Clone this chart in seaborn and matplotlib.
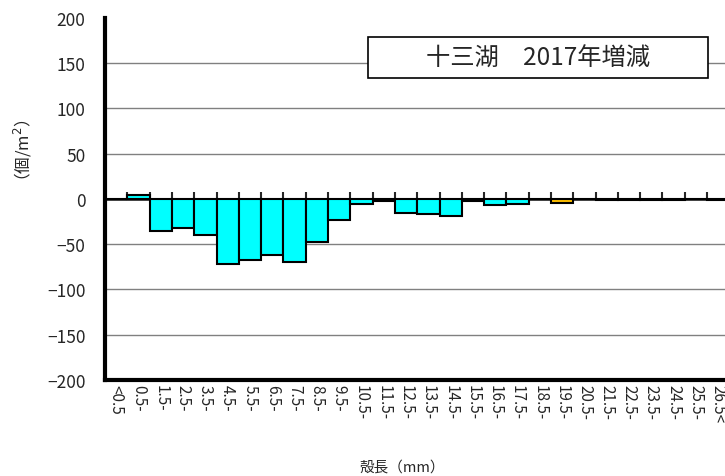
import matplotlib
matplotlib.use('Agg')
import matplotlib.pyplot as plt
import numpy as np
import pandas as pd
import seaborn as sns
from matplotlib.patches import Rectangle

# shell length classes and 2017 change in density (per m2)
size_classes = ['<0.5'] + [f'{v}.5-' for v in range(0, 26)] + ['26.5<']
change_2017 = [0, 4, -35, -32, -40, -72, -67, -62, -70, -47, -23, -6, -2,
               -16, -17, -19, -2, -7, -5, 0, -4, 0, -1, -1, -1, -1, 0, -1]
highlight_class = '19.5-'
y_ticks = [-200, -150, -100, -50, 0, 50, 100, 150, 200]
title_text = '十三湖　2017年増減'

df = pd.DataFrame({'size': size_classes, 'change': change_2017})
palette = {c: ('#FFC000' if c == highlight_class else '#00FFFF') for c in size_classes}

sns.set_style('white')
plt.rcParams['font.family'] = ['Noto Sans CJK JP', 'DejaVu Sans']

fig = plt.figure(figsize=(7.25, 4.77), dpi=100)
ax = fig.add_axes([0.145, 0.2013, 0.861, 0.7589])

sns.barplot(data=df, x='size', y='change', hue='size', palette=palette,
            width=1.0, edgecolor='black', linewidth=1.5, legend=False,
            saturation=1, ax=ax, zorder=3)

ax.set_xlim(-0.5, len(size_classes) - 0.5)
ax.set_ylim(y_ticks[0], y_ticks[-1])
ax.set_yticks(y_ticks)
ax.yaxis.grid(True, color='#808080', linewidth=1)
ax.set_axisbelow(True)
glines = ax.get_ygridlines()
glines[0].set_visible(False)
glines[-1].set_visible(False)

for s in ['top', 'right']:
    ax.spines[s].set_visible(False)
ax.spines['left'].set_linewidth(3)
ax.spines['bottom'].set_linewidth(3)
ax.spines['left'].set_color('black')
ax.spines['bottom'].set_color('black')

ax.tick_params(axis='y', direction='in', length=4, width=2, labelsize=12.5, pad=14)
ax.tick_params(axis='x', length=0, labelsize=11, pad=3)
for lab in ax.get_xticklabels():
    lab.set_rotation(-90)
    lab.set_va('top')
    lab.set_ha('center')

# category axis crossing at zero, with boundary tick marks
sec = ax.secondary_xaxis(0.5)
sec.set_xticks(np.arange(len(size_classes) + 1) - 0.5)
sec.set_xticklabels([])
sec.tick_params(axis='x', direction='out', length=5, width=1.5,
                labelbottom=False, labeltop=False)
for s in sec.spines.values():
    s.set_linewidth(2)

ax.set_xlabel('')
ax.set_ylabel('')
fig.text(0.032, 0.675, '（個/m$^2$）', rotation=90, ha='center', va='center', fontsize=12)
fig.text(0.555, 0.02, '殻長（mm）', ha='center', va='center', fontsize=10.5)

# title box
ax.add_patch(Rectangle((0.421, 0.834), 0.544, 0.1135, transform=ax.transAxes,
                       facecolor='white', edgecolor='black', linewidth=1.2, zorder=5))
ax.text(0.693, 0.891, title_text, transform=ax.transAxes, ha='center', va='center',
        fontsize=17.5, zorder=6)

fig.savefig('out.png', dpi=100)
